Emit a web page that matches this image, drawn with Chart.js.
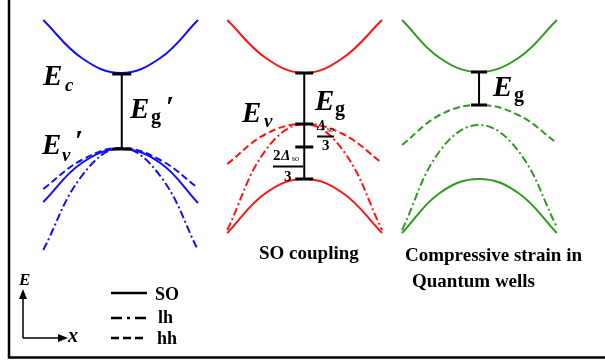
<!DOCTYPE html>
<html>
<head>
<meta charset="utf-8">
<script src="https://cdn.jsdelivr.net/npm/chart.js@4"></script>
<style>html,body{margin:0;padding:0;background:#fff}canvas{display:block}</style>
</head>
<body>
<canvas id="bands" width="605" height="362"></canvas>
<script>
// wave vector k (arbitrary units), the three panels sit side by side
const kBulk = [-1.01, -0.51, 0, 0.51, 1.0]
const kSO = [1.38, 1.88, 2.38, 2.88, 3.39]
const kQW = [3.65, 4.14, 4.65, 5.16, 5.66]

// energies (arbitrary units)
const ecBulk = [1.30, 0.92, 0.77, 0.92, 1.30]
const soBulk = [-0.52, -0.13, 0.01, -0.13, -0.53]
const hhBulk = [-0.39, -0.10, 0.02, -0.10, -0.38]
const lhBulk = [-1.00, -0.26, 0.02, -0.26, -1.00]

const ecSO = [1.30, 0.92, 0.77, 0.92, 1.30]
const hhSO = [-0.14, 0.16, 0.26, 0.16, -0.13]
const lhSO = [-0.80, 0.00, 0.26, 0.00, -0.80]
const soSO = [-0.83, -0.43, -0.29, -0.43, -0.83]

const ecQW = [1.30, 0.92, 0.78, 0.92, 1.30]
const hhQW = [0.05, 0.35, 0.45, 0.35, 0.07]
const lhQW = [-0.80, -0.01, 0.25, -0.01, -0.77]
const soQW = [-0.83, -0.43, -0.29, -0.43, -0.83]

// gap markers: k position and energy levels
const gapK = [0.01, 2.38, 4.65]
const gapBulk = [0.76, 0.01]
const gapSO = [0.77, 0.26, 0.03, -0.29]
const gapQW = [0.78, 0.45]

const blue = '#1010ff', red = '#ff1414', green = '#2f9a1f'
const DASH = [7, 3.5], DASHDOT = [8, 3, 2, 3]

function curve(ks, es, color, dash) {
    return {
        data: ks.map((k, i) => ({x: k, y: es[i]})),
        borderColor: color, borderWidth: 2, borderDash: dash || [],
        showLine: true, pointRadius: 0, tension: 0.4, order: 1
    }
}
function gap(k, es, r) {
    return {
        data: es.map(e => ({x: k, y: e})),
        borderColor: '#000', borderWidth: 2, showLine: true, tension: 0,
        pointStyle: 'line', pointRadius: r, pointBorderWidth: 3,
        pointBorderColor: '#000', order: 0
    }
}

const SERIF = '"Liberation Serif", "DejaVu Serif", serif'
function put(ctx, s, x, y, size, style) {
    ctx.font = (style || 'bold') + ' ' + size + 'px ' + SERIF
    ctx.fillText(s, x, y)
    return ctx.measureText(s).width
}

const sketchPlugin = {
    id: 'sketch',
    afterDraw(chart) {
        const ctx = chart.ctx
        ctx.save()
        ctx.fillStyle = '#000'
        ctx.strokeStyle = '#000'
        ctx.textBaseline = 'alphabetic'

        // frame
        ctx.lineWidth = 2.5
        ctx.beginPath()
        ctx.moveTo(9, 0); ctx.lineTo(9, 357.5); ctx.lineTo(605, 357.5)
        ctx.stroke()

        // band labels
        put(ctx, 'E', 43, 85, 29, 'italic bold'); put(ctx, 'c', 65, 91, 19, 'italic bold')
        put(ctx, 'E', 130, 118, 29, 'italic bold'); put(ctx, 'g', 151, 123, 20); put(ctx, '\u2032', 166, 116, 30, 'bold')
        put(ctx, 'E', 42, 154, 29, 'italic bold'); put(ctx, 'v', 62, 161, 19, 'italic bold'); put(ctx, '\u2032', 75, 150, 30, 'bold')

        put(ctx, 'E', 242, 122, 29, 'italic bold'); put(ctx, 'v', 264, 127, 19, 'italic bold')
        put(ctx, 'E', 315, 110, 29, 'italic bold'); put(ctx, 'g', 335, 115, 20)
        put(ctx, 'E', 493, 96, 29, 'italic bold'); put(ctx, 'g', 514, 101, 20)

        // Δso/3 fractions
        ctx.lineWidth = 2
        put(ctx, '\u0394', 317, 130, 14, 'italic bold'); put(ctx, 'so', 327, 132, 8, 'normal')
        ctx.beginPath(); ctx.moveTo(317, 136.5); ctx.lineTo(334, 136.5); ctx.stroke()
        put(ctx, '3', 322, 150, 15)
        put(ctx, '2', 273, 160, 15); put(ctx, '\u0394', 281, 160, 15, 'italic bold'); put(ctx, 'so', 292, 161, 8, 'normal')
        ctx.beginPath(); ctx.moveTo(273, 166.5); ctx.lineTo(303, 166.5); ctx.stroke()
        put(ctx, '3', 284, 181, 15)

        // captions
        put(ctx, 'SO coupling', 259, 259, 19)
        put(ctx, 'Compressive strain in', 405, 261, 19)
        put(ctx, 'Quantum wells', 412, 287, 19)

        // axis icon
        ctx.lineWidth = 1.5
        ctx.beginPath(); ctx.moveTo(23, 338); ctx.lineTo(23, 296); ctx.moveTo(23, 338); ctx.lineTo(61, 338); ctx.stroke()
        ctx.beginPath(); ctx.moveTo(23, 289); ctx.lineTo(19, 299); ctx.lineTo(27, 299); ctx.closePath(); ctx.fill()
        ctx.beginPath(); ctx.moveTo(68, 338); ctx.lineTo(58, 334); ctx.lineTo(58, 342); ctx.closePath(); ctx.fill()
        put(ctx, 'E', 19, 285, 17, 'italic bold')
        put(ctx, 'x', 68, 342, 20, 'italic bold')

        // legend
        ctx.lineWidth = 2.5
        const rows = [[293, [], 'SO', 155, 300], [318, [11, 5, 3, 5], 'lh', 158, 323], [338, [8, 4], 'hh', 157, 344]]
        rows.forEach(r => {
            ctx.setLineDash(r[1])
            ctx.beginPath(); ctx.moveTo(111, r[0]); ctx.lineTo(147, r[0]); ctx.stroke()
            ctx.setLineDash([])
            put(ctx, r[2], r[3], r[4], 18)
        })
        ctx.restore()
    }
}

const ctxBands = document.getElementById('bands').getContext('2d')
const chartBands = new Chart(ctxBands, {
    type: 'scatter',
    data: {
        datasets: [
            gap(gapK[0], gapBulk, 9.5),
            gap(gapK[1], gapSO, 9),
            gap(gapK[2], gapQW, 8),
            curve(kBulk, ecBulk, blue),
            curve(kBulk, soBulk, blue),
            curve(kBulk, hhBulk, blue, DASH),
            curve(kBulk, lhBulk, blue, DASHDOT),
            curve(kSO, ecSO, red),
            curve(kSO, hhSO, red, DASH),
            curve(kSO, lhSO, red, DASHDOT),
            curve(kSO, soSO, red),
            curve(kQW, ecQW, green),
            curve(kQW, hhQW, green, DASH),
            curve(kQW, lhQW, green, DASHDOT),
            curve(kQW, soQW, green)
        ]
    },
    options: {
        responsive: false,
        animation: false,
        devicePixelRatio: 1,
        layout: {padding: 0, autoPadding: false},
        plugins: {legend: {display: false}, tooltip: {enabled: false}},
        scales: {
            x: {type: 'linear', min: -1.5714, max: 6.2857, display: false},
            y: {type: 'linear', min: -2.12, max: 1.50, display: false}
        }
    },
    plugins: [sketchPlugin]
})
</script>
</body>
</html>
